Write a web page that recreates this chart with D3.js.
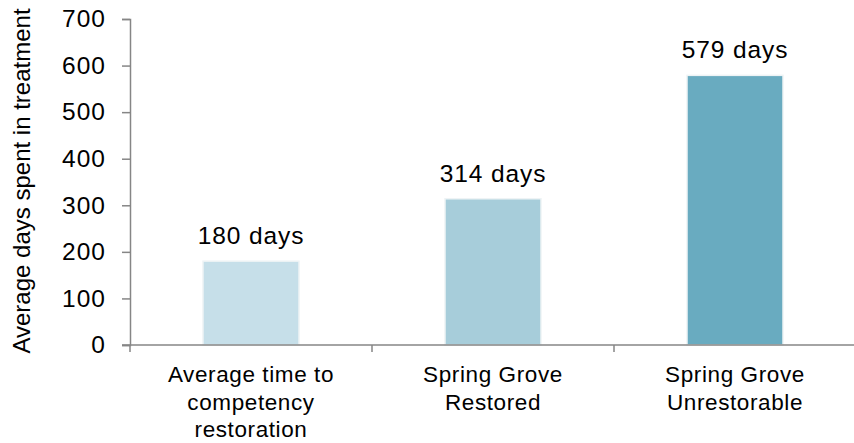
<!DOCTYPE html>
<html>
<head>
<meta charset="utf-8">
<script src="https://cdn.jsdelivr.net/npm/d3@7"></script>
<style>
    body { margin: 0; background: #fff; }
    text { font-family: "Liberation Sans", Arial, sans-serif; fill: #000; }
</style>
</head>
<body>
<div id="chart"></div>
<script>
// DATA

var categories = [
    ["Average time to", "competency", "restoration"],
    ["Spring Grove", "Restored"],
    ["Spring Grove", "Unrestorable"]
];
var values = [180, 314, 579];
var valueLabels = ["180 days", "314 days", "579 days"];
var barColors = ["#c6dfe9", "#a7cdda", "#69abc0"];
var yTicks = [0, 100, 200, 300, 400, 500, 600, 700];

// CHART

var width = 854;
var height = 443;
var plotLeft = 130, plotRight = 856, plotTop = 19, plotBottom = 345;

var svg = d3.select("#chart").append("svg")
    .attr("width", width)
    .attr("height", height);

var x = d3.scaleBand()
    .domain(d3.range(values.length))
    .range([plotLeft, plotRight])
    .paddingInner(0)
    .paddingOuter(0);

var barWidth = 96;

var y = d3.scaleLinear()
    .domain([0, 700])
    .range([plotBottom, plotTop]);

// bars
svg.selectAll("rect.bar")
    .data(values)
    .join("rect")
    .attr("class", "bar")
    .attr("x", (d, i) => x(i) + x.bandwidth() / 2 - barWidth / 2)
    .attr("y", d => y(d))
    .attr("width", barWidth)
    .attr("height", d => y(0) - y(d))
    .attr("fill", (d, i) => barColors[i])
    .attr("stroke", "#eef3f5")
    .attr("stroke-width", 1.5);

// value labels
svg.selectAll("text.value")
    .data(values)
    .join("text")
    .attr("class", "value")
    .attr("x", (d, i) => x(i) + x.bandwidth() / 2)
    .attr("y", d => y(d) - 17)
    .attr("text-anchor", "middle")
    .style("font-size", "24.5px")
    .style("letter-spacing", "0.9px")
    .text((d, i) => valueLabels[i]);

// y axis
var yAxis = d3.axisLeft(y)
    .tickValues(yTicks)
    .tickSize(8)
    .tickPadding(16);

var gy = svg.append("g")
    .attr("class", "y axis")
    .attr("transform", "translate(" + plotLeft + ",0)")
    .call(yAxis);
gy.select(".domain").attr("stroke", "#868686").attr("stroke-width", 1.5);
gy.selectAll(".tick line").attr("stroke", "#868686").attr("stroke-width", 1.5);
gy.selectAll(".tick text")
    .style("font-size", "24.5px")
    .style("letter-spacing", "1px")
    .style("font-family", "'Liberation Sans', Arial, sans-serif")
    .attr("fill", "#000");

// x axis line + category ticks
svg.append("line")
    .attr("x1", plotLeft - 8)
    .attr("x2", plotRight)
    .attr("y1", y(0))
    .attr("y2", y(0))
    .attr("stroke", "#868686")
    .attr("stroke-width", 1.5);

svg.selectAll("line.xtick")
    .data(d3.range(values.length + 1))
    .join("line")
    .attr("class", "xtick")
    .attr("x1", i => plotLeft + i * x.bandwidth())
    .attr("x2", i => plotLeft + i * x.bandwidth())
    .attr("y1", y(0))
    .attr("y2", y(0) + 7)
    .attr("stroke", "#868686")
    .attr("stroke-width", 1.5);

// category labels
var cat = svg.selectAll("text.cat")
    .data(categories)
    .join("text")
    .attr("class", "cat")
    .attr("text-anchor", "middle")
    .style("font-size", "22.5px")
    .style("letter-spacing", "0.6px");

cat.selectAll("tspan")
    .data((d, i) => d.map(t => ({ t: t, i: i })))
    .join("tspan")
    .attr("x", d => x(d.i) + x.bandwidth() / 2)
    .attr("y", (d, j) => y(0) + 37 + j * 27.5)
    .text(d => d.t);

// y axis title
svg.append("text")
    .attr("transform", "translate(30," + 181 + ") rotate(-90)")
    .attr("text-anchor", "middle")
    .style("font-size", "24px")
    .text("Average days spent in treatment");
</script>
</body>
</html>
